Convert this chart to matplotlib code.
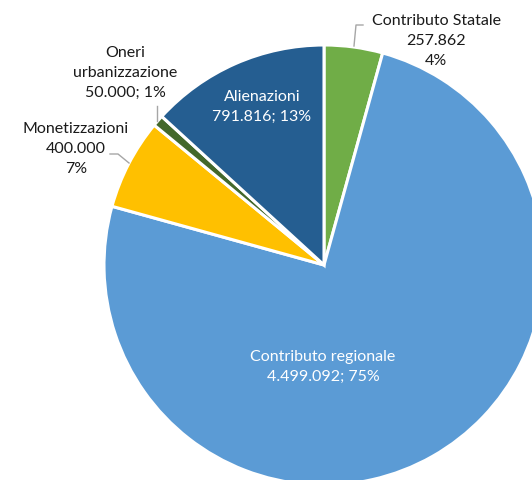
import matplotlib
matplotlib.use("Agg")
import matplotlib.pyplot as plt

categories = ["Contributo Statale", "Contributo regionale", "Monetizzazioni",
              "Oneri\nurbanizzazione", "Alienazioni"]
values = [257862, 4499092, 400000, 50000, 791816]
value_labels = ["257.862", "4.499.092", "400.000", "50.000", "791.816"]
pct_labels = ["4%", "75%", "7%", "1%", "13%"]
colors = ["#70AD47", "#5B9BD5", "#FFC000", "#43682B", "#255E91"]

plt.rcParams['font.family'] = ['Lato', 'DejaVu Sans']

W, H = 532, 480
fig = plt.figure(figsize=(W / 100, H / 100), dpi=100)
cx, cy, R = 324, 265, 220
ax = fig.add_axes([(cx - R) / W, (H - cy - R) / H, 2 * R / W, 2 * R / H])

wedges, _ = ax.pie(values, colors=colors, startangle=90, counterclock=False,
                   radius=1, wedgeprops=dict(edgecolor='white', linewidth=2.2))
for w in wedges:
    w.set_clip_on(False)
ax.set_xlim(-1, 1)
ax.set_ylim(-1, 1)
ax.set_aspect('equal')
ax.axis('off')

def P(px, py):
    return ((px - cx) / R, (cy - py) / R)

fs = 11.5
ls = 1.55
line_c = "#A6A6A6"

# Contributo Statale (outside)
ax.text(*P(436, 41), f"{categories[0]}\n{value_labels[0]}\n{pct_labels[0]}",
        ha='center', va='center', fontsize=fs, color='#1a1a1a', linespacing=ls)
ax.plot(*zip(P(354, 46), P(356, 25), P(363, 25)), color=line_c, lw=1, clip_on=False)

# Contributo regionale (inside)
ax.text(*P(323, 367), f"{categories[1]}\n{value_labels[1]}; {pct_labels[1]}",
        ha='center', va='center', fontsize=fs, color='white', linespacing=ls)

# Monetizzazioni (outside)
ax.text(*P(76, 149), f"{categories[2]}\n{value_labels[2]}\n{pct_labels[2]}",
        ha='center', va='center', fontsize=fs, color='#1a1a1a', linespacing=ls)
ax.plot(*zip(P(110, 154), P(118, 154), P(129, 163)), color=line_c, lw=1, clip_on=False)

# Oneri urbanizzazione (outside)
ax.text(*P(125, 73), f"{categories[3]}\n{value_labels[3]}; {pct_labels[3]}",
        ha='center', va='center', fontsize=fs, color='#1a1a1a', linespacing=ls)
ax.plot(*zip(P(157, 106), P(157, 121)), color=line_c, lw=1, clip_on=False)

# Alienazioni (inside)
ax.text(*P(262, 107), f"{categories[4]}\n{value_labels[4]}; {pct_labels[4]}",
        ha='center', va='center', fontsize=fs, color='white', linespacing=ls)

fig.savefig("out.png", dpi=100, facecolor='white')
